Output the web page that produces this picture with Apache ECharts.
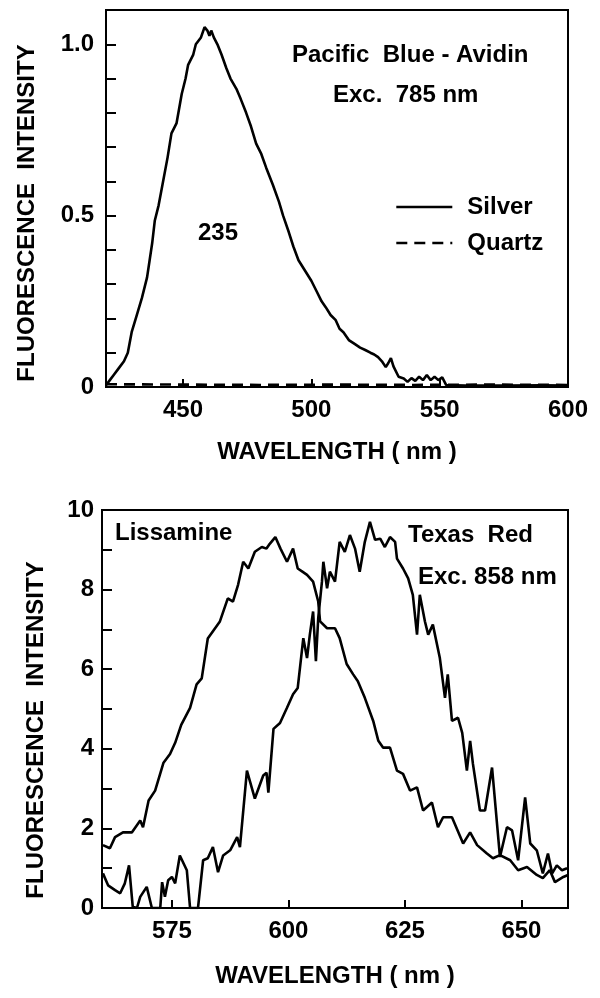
<!DOCTYPE html>
<html>
<head>
<meta charset="utf-8">
<script src="https://cdn.jsdelivr.net/npm/echarts@6/dist/echarts.min.js"></script>
<style>
  html, body { margin: 0; padding: 0; background: #fff; }
  #main { width: 600px; height: 998px; }
</style>
</head>
<body>
<div id="main"></div>
<script>
// top panel: Pacific Blue-Avidin, [wavelength nm, intensity]
var silver = [
  [420,0.005],[421.5,0.02],[423,0.035],[425,0.055],[427,0.075],[428.5,0.1],[430,0.16],[432,0.21],
  [434,0.26],[436,0.32],[437,0.37],[438,0.42],[439,0.485],[440.5,0.53],[442,0.59],[444,0.67],
  [445.5,0.74],[447.5,0.77],[449.5,0.855],[451,0.9],[452,0.94],[454,0.97],[455,1.0],[457,1.02],
  [458.4,1.05],[459.5,1.04],[460.3,1.025],[461,1.04],[462,1.02],[463.4,1.0],[465,0.97],[466.9,0.93],
  [468.5,0.9],[470.8,0.87],[472.5,0.84],[474.6,0.8],[476.5,0.76],[478.5,0.71],[480.5,0.68],[482.4,0.64],
  [485,0.59],[487.4,0.54],[489,0.5],[491.3,0.45],[493,0.41],[495,0.37],[497.5,0.34],[500,0.31],
  [502,0.28],[504,0.25],[505.6,0.233],[507.5,0.21],[509.5,0.195],[511,0.17],[512.5,0.16],[514.6,0.137],
  [517,0.125],[519,0.115],[521,0.108],[523,0.1],[524.5,0.095],[526,0.087],[527.5,0.075],[529,0.058],
  [530,0.07],[531,0.084],[532,0.06],[534,0.03],[536,0.025],[537.5,0.015],[539,0.026],[540.5,0.018],
  [542,0.03],[543.5,0.02],[545,0.035],[546.5,0.02],[548,0.03],[549.5,0.02],[551,0.028],[552.5,0.006],
  [560,0.004],[575,0.004],[590,0.005],[600,0.004]
];
var quartz = [[420,0.008],[450,0.007],[480,0.006],[510,0.007],[540,0.006],[570,0.007],[600,0.006]];

// bottom panel: Lissamine and Texas Red
var lissamine = [
  [560.2,1.58],[561.7,1.5],[562.8,1.78],[564.5,1.9],[566.4,1.9],[568.2,2.2],[568.8,2.03],[570,2.7],
  [571.4,2.95],[573.2,3.65],[574.6,3.87],[575.7,4.15],[577,4.6],[578.9,5.03],[580.3,5.62],[581.4,5.77],
  [582.7,6.77],[585.3,7.2],[587,7.78],[588.1,7.7],[589.2,8.12],[590.3,8.7],[591.4,8.53],[592.8,8.95],
  [594.3,9.07],[595.3,9.03],[596,9.15],[597.2,9.32],[598.3,9.03],[599.7,8.7],[601,9.03],[602,8.53],
  [603,8.45],[604,8.37],[605.3,8.2],[606.4,7.7],[606.8,7.2],[608.3,7.03],[610,7.03],[611,6.78],
  [612.5,6.13],[613.9,5.87],[614.9,5.7],[616.4,5.28],[618.2,4.7],[619.3,4.2],[620.3,4.03],[621.8,4.03],
  [623.3,3.45],[624.6,3.37],[626.1,2.95],[627.6,3.03],[628.9,2.45],[630.8,2.65],[632.1,2.03],[633.2,2.28],
  [635.1,2.28],[637.5,1.62],[639,1.9],[640.5,1.58],[642.6,1.37],[643.9,1.25],[645.4,1.33],[647.6,1.2],
  [649.3,0.95],[651.2,1.03],[653.3,0.83],[654.6,0.75],[656.1,0.95],[657.2,0.65],[659,0.78],[660,0.83]
];
var texasRed = [
  [560.2,0.87],[561.3,0.57],[562.8,0.45],[563.9,0.37],[564.9,0.62],[565.8,1.07],[566.6,0.03],[567.5,0],
  [568.2,0.28],[569.6,0.53],[570.7,0],[572.5,0],[572.9,0.65],[573.5,0.28],[574.2,0.7],[575,0.78],
  [575.7,0.62],[576.7,1.32],[578.2,0.95],[578.9,0],[580.6,0],[581.7,1.2],[582.7,1.25],[583.8,1.53],
  [584.9,0.9],[586,1.32],[587.5,1.45],[589,1.78],[589.6,1.53],[591.1,3.45],[592.8,2.75],[594.6,3.33],
  [595.3,3.4],[595.7,2.9],[596.8,4.5],[598.2,4.65],[599.7,5.03],[601,5.37],[602,5.53],[603.2,6.78],
  [604,6.28],[604.6,6.87],[605.3,7.45],[605.9,6.2],[606.4,7.28],[607.2,8.2],[607.5,8.7],[608.3,8.03],
  [608.9,8.45],[610,8.2],[611,9.2],[612.1,8.95],[613.2,9.37],[614.3,9.03],[615.3,8.45],[616.4,9.2],
  [617.5,9.7],[618.6,9.25],[619.7,9.28],[620.7,9.07],[621.8,9.32],[622.9,9.2],[623.3,8.78],[624.6,8.53],
  [625.7,8.28],[626.7,7.87],[627.6,6.87],[628.2,7.87],[629.3,7.2],[630,6.87],[631,7.12],[632.5,6.28],
  [633.6,5.28],[634.2,5.87],[635.1,4.7],[636.4,4.78],[637.3,4.4],[638.3,3.45],[639,4.2],[639.6,3.62],
  [641.1,2.45],[642.2,2.45],[643.7,3.53],[645.4,1.28],[646.9,2.03],[648,1.95],[649.3,1.2],[650.8,2.78],
  [651.9,1.62],[653.3,1.45],[654.6,0.87],[655.7,1.37],[656.6,0.87],[657.6,1.07],[658.7,0.95],[659.8,1.0]
];

// ticks / labels
var topXLabels = [450, 500, 550, 600];
var topXTicks = [450, 500, 550];
var topYLabels = [0, 0.5, 1.0];
var topYTicks = [0.1, 0.2, 0.3, 0.4, 0.5, 0.6, 0.7, 0.8, 0.9, 1.0];
var botXLabels = [575, 600, 625, 650];
var botYLabels = [0, 2, 4, 6, 8, 10];
var botYTicks = [1, 2, 3, 4, 5, 6, 7, 8, 9];

var FONT = '"Liberation Sans", Arial, sans-serif';
var black = '#000';

function xAxisCfg(idx, min, max, labels, ticks, gap) {
    return {
        type: 'value', gridIndex: idx, min: min, max: max,
        name: 'WAVELENGTH ( nm )', nameLocation: 'middle', nameGap: gap,
        nameTextStyle: { fontFamily: FONT, fontSize: 24, fontWeight: 'bold', color: black },
        axisLine: { show: true, lineStyle: { color: black, width: 2 } },
        axisTick: { show: true, inside: true, length: 8, customValues: ticks, lineStyle: { color: black, width: 2 } },
        axisLabel: { customValues: labels, margin: 11, fontFamily: FONT, fontSize: 24, fontWeight: 'bold', color: black },
        splitLine: { show: false }
    };
}

function yAxisCfg(idx, min, max, labels, ticks, fmt, margin) {
    return {
        type: 'value', gridIndex: idx, min: min, max: max,
        axisLine: { show: true, lineStyle: { color: black, width: 2 } },
        axisTick: { show: true, inside: true, length: 10, customValues: ticks, lineStyle: { color: black, width: 2 } },
        axisLabel: { customValues: labels, margin: margin, formatter: fmt, fontFamily: FONT, fontSize: 24, fontWeight: 'bold', color: black },
        splitLine: { show: false }
    };
}

function lineSeries(name, data, idx, dash) {
    return {
        name: name, type: 'line', xAxisIndex: idx, yAxisIndex: idx,
        data: data, symbol: 'none', showSymbol: false,
        lineStyle: { color: black, width: 2.6, type: dash || 'solid' },
        itemStyle: { color: black }
    };
}

function txt(s, x, y, align) {
    return {
        type: 'text', x: x, y: y, silent: true,
        style: { text: s, fill: black, font: 'bold 24px ' + FONT, align: align || 'left', verticalAlign: 'middle' }
    };
}

var myChart = echarts.init(document.getElementById('main'));

var option = {
    animation: false,
    backgroundColor: '#fff',
    grid: [
        { left: 106, top: 10, width: 462, height: 377, show: true, borderColor: black, borderWidth: 2 },
        { left: 102, top: 510, width: 466, height: 398, show: true, borderColor: black, borderWidth: 2 }
    ],
    xAxis: [
        xAxisCfg(0, 420, 600, topXLabels, topXTicks, 53),
        xAxisCfg(1, 560, 660, botXLabels, botXLabels, 56)
    ],
    yAxis: [
        yAxisCfg(0, 0, 1.1, topYLabels, topYTicks, function (v) { return v === 0 ? '0' : v.toFixed(1); }, 12),
        yAxisCfg(1, 0, 10, botYLabels, botYTicks, function (v) { return String(v); }, 8)
    ],
    legend: {
        data: ['Silver', 'Quartz'],
        orient: 'vertical', left: 390, top: 190,
        itemWidth: 56, itemHeight: 14, itemGap: 12,
        selectedMode: false,
        itemStyle: { opacity: 0 },
        lineStyle: { width: 2.6 },
        textStyle: { fontFamily: FONT, fontSize: 24, fontWeight: 'bold', color: black, padding: [0, 0, 0, 10] }
    },
    series: [
        lineSeries('Silver', silver, 0),
        lineSeries('Quartz', quartz, 0, [11, 7]),
        lineSeries('Lissamine', lissamine, 1),
        lineSeries('Texas Red', texasRed, 1)
    ],
    graphic: [
        txt('Pacific  Blue - Avidin', 292, 55),
        txt('Exc.  785 nm', 333, 95),
        txt('235', 218, 233, 'center'),
        txt('Lissamine', 115, 533),
        txt('Texas  Red', 408, 535),
        txt('Exc. 858 nm', 418, 577),
        {
            type: 'text', x: 27, y: 213, rotation: Math.PI / 2, silent: true,
            style: { text: 'FLUORESCENCE  INTENSITY', fill: black, font: 'bold 24px ' + FONT, align: 'center', verticalAlign: 'middle' }
        },
        {
            type: 'text', x: 36, y: 730, rotation: Math.PI / 2, silent: true,
            style: { text: 'FLUORESCENCE  INTENSITY', fill: black, font: 'bold 24px ' + FONT, align: 'center', verticalAlign: 'middle' }
        }
    ]
};

myChart.setOption(option);
</script>
</body>
</html>
